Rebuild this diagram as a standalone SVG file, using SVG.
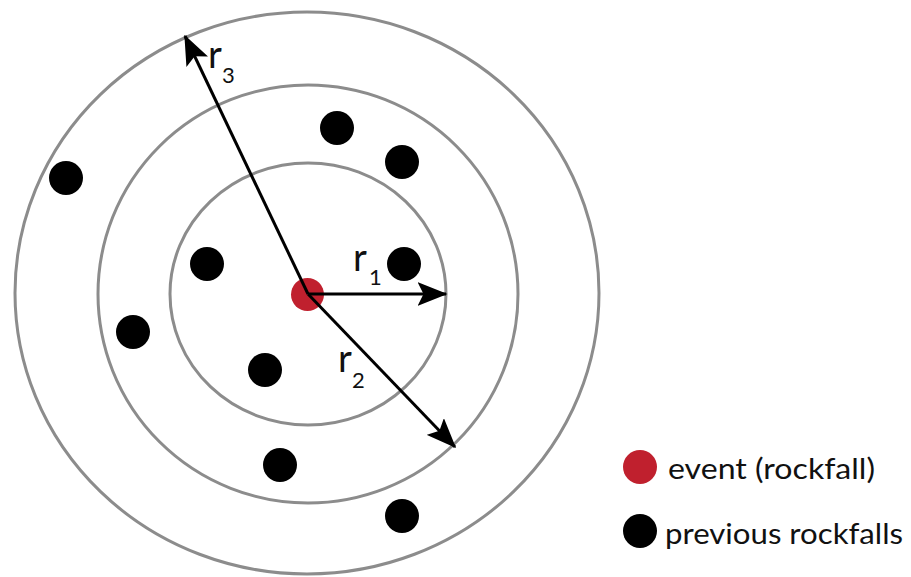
<svg xmlns="http://www.w3.org/2000/svg" width="911" height="577" viewBox="0 0 911 577">
  <style>
    .ring { fill: none; stroke: #8c8c8c; stroke-width: 3; }
    .prev { fill: #000; }
    .event { fill: #c0202e; }
    .radius { stroke: #000; stroke-width: 3; fill: none; }
    .lbl { font-family: Lato, "Open Sans", "Liberation Sans", sans-serif; fill: #111; }
    .r { font-size: 38px; }
    .sub { font-size: 22px; }
    .legend { font-family: Lato, "Open Sans", "Liberation Sans", sans-serif; font-size: 28px; fill: #111; }
  </style>
  <defs>
    <marker id="head" markerWidth="10" markerHeight="8" refX="9.5" refY="4" orient="auto" markerUnits="strokeWidth">
      <path d="M0,0 L10,4 L0,8 L2,4 Z" fill="#000"/>
    </marker>
  </defs>

  <!-- search rings -->
  <g id="rings">
    <ellipse class="ring" cx="307" cy="293" rx="292" ry="281"/>
    <ellipse class="ring" cx="308" cy="294" rx="210" ry="209"/>
    <ellipse class="ring" cx="308" cy="294" rx="138" ry="131"/>
  </g>

  <!-- earlier rockfalls -->
  <g id="previous">
    <circle class="prev" cx="337" cy="128" r="17"/>
    <circle class="prev" cx="402" cy="162" r="17"/>
    <circle class="prev" cx="66" cy="178" r="17"/>
    <circle class="prev" cx="207" cy="264" r="17"/>
    <circle class="prev" cx="404" cy="264" r="17"/>
    <circle class="prev" cx="133" cy="332" r="17"/>
    <circle class="prev" cx="265" cy="370" r="17"/>
    <circle class="prev" cx="280" cy="465" r="17"/>
    <circle class="prev" cx="402" cy="516" r="17"/>
  </g>

  <!-- current event -->
  <g id="event">
    <circle class="event" cx="307.5" cy="294.5" r="16.5"/>
  </g>

  <!-- radius arrows -->
  <g id="connectors">
    <line class="radius" x1="308" y1="294" x2="446" y2="294" marker-end="url(#head)"/>
    <line class="radius" x1="308" y1="294" x2="455" y2="447" marker-end="url(#head)"/>
    <line class="radius" x1="308" y1="294" x2="185" y2="36" marker-end="url(#head)"/>
  </g>

  <!-- radius labels -->
  <g id="label-r1" class="lbl">
    <text class="r" x="353" y="271">r</text>
    <text class="sub" x="369" y="285">1</text>
  </g>
  <g id="label-r2" class="lbl">
    <text class="r" x="338" y="372">r</text>
    <text class="sub" x="352" y="388">2</text>
  </g>
  <g id="label-r3" class="lbl">
    <text class="r" x="208" y="68">r</text>
    <text class="sub" x="222" y="83">3</text>
  </g>

  <!-- legend -->
  <g id="legend-event">
    <circle class="event" cx="640" cy="467" r="17"/>
    <text class="legend" x="668" y="479" textLength="207" lengthAdjust="spacingAndGlyphs">event (rockfall)</text>
  </g>
  <g id="legend-previous">
    <circle class="prev" cx="640" cy="531" r="17"/>
    <text class="legend" x="665" y="544" textLength="238" lengthAdjust="spacingAndGlyphs">previous rockfalls</text>
  </g>
</svg>
